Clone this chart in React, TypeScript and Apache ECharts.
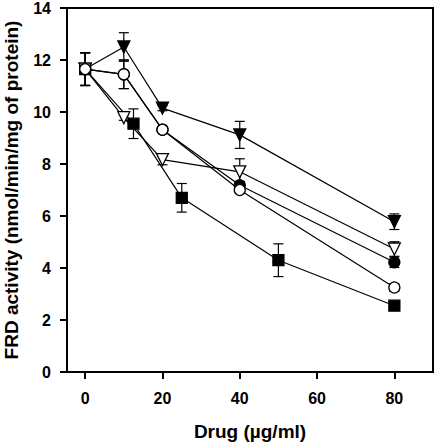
import React, { useEffect, useRef } from "react";
import * as echarts from "echarts";

const doses = [0, 10, 20, 40, 80];
const squareDoses = [0, 12.5, 25, 50, 80];
const xTicks = [0, 20, 40, 60, 80];

const squareMean = [11.65, 9.55, 6.7, 4.3, 2.55];
const squareErr = [0.63, 0.57, 0.55, 0.63, 0.08];
const filledTriMean = [11.65, 12.5, 10.15, 9.12, 5.78];
const filledTriErr = [0.63, 0.55, 0.1, 0.52, 0.3];
const openCircleMean = [11.65, 11.45, 9.32, 7.0, 3.25];
const openCircleErr = [0.63, 0.55, 0.1, 0.1, 0.15];
const openTriMean = [11.65, 9.78, 8.17, 7.7, 4.73];
const openTriErr = [0.63, 0.1, 0.2, 0.5, 0.28];
const filledCircleMean = [11.65, 11.45, 9.32, 7.18, 4.22];
const filledCircleErr = [0.63, 0.55, 0.1, 0.15, 0.2];

const FONT = "'Liberation Sans', Arial, Helvetica, sans-serif";

type S = { xs: number[]; mean: number[]; err: number[]; symbol: string; rotate: number; filled: boolean; size: number };

const seriesDefs: S[] = [
  { xs: doses, mean: filledCircleMean, err: filledCircleErr, symbol: "circle", rotate: 0, filled: true, size: 11 },
  { xs: squareDoses, mean: squareMean, err: squareErr, symbol: "rect", rotate: 0, filled: true, size: 11 },
  { xs: doses, mean: filledTriMean, err: filledTriErr, symbol: "triangle", rotate: 180, filled: true, size: 12 },
  { xs: doses, mean: openTriMean, err: openTriErr, symbol: "triangle", rotate: 180, filled: false, size: 12 },
  { xs: doses, mean: openCircleMean, err: openCircleErr, symbol: "circle", rotate: 0, filled: false, size: 11 },
];

export default function App() {
  const ref = useRef<HTMLDivElement>(null);
  useEffect(() => {
    if (!ref.current) return;
    const chart = echarts.init(ref.current, null, { renderer: "svg" });
    const series: any[] = [];
    seriesDefs.forEach((d) => {
      series.push({
        type: "custom",
        z: 1,
        data: d.xs.map((x, i) => [x, d.mean[i] - d.err[i], d.mean[i] + d.err[i]]),
        encode: { x: 0, y: [1, 2] },
        renderItem: (params: any, api: any) => {
          const x = api.value(0);
          const top = api.coord([x, api.value(2)]);
          const bot = api.coord([x, api.value(1)]);
          const w = 5;
          const st = { stroke: "#000", lineWidth: 1.2 };
          return {
            type: "group",
            children: [
              { type: "line", shape: { x1: top[0], y1: top[1], x2: bot[0], y2: bot[1] }, style: st },
              { type: "line", shape: { x1: top[0] - w, y1: top[1], x2: top[0] + w, y2: top[1] }, style: st },
              { type: "line", shape: { x1: bot[0] - w, y1: bot[1], x2: bot[0] + w, y2: bot[1] }, style: st },
            ],
          };
        },
      });
    });
    seriesDefs.forEach((d) => {
      series.push({
        type: "line",
        z: 3,
        data: d.xs.map((x, i) => [x, d.mean[i]]),
        symbol: d.symbol,
        symbolRotate: d.rotate,
        symbolSize: d.size,
        showAllSymbol: true,
        lineStyle: { color: "#000", width: 1.2 },
        itemStyle: { color: d.filled ? "#000" : "#fff", borderColor: "#000", borderWidth: 1.3 },
      });
    });
    chart.setOption({
      animation: false,
      backgroundColor: "#fff",
      grid: {
        left: 67, right: 1, top: 8, bottom: 72,
        show: true, borderColor: "#000", borderWidth: 2,
        containLabel: false, outerBoundsMode: "none",
      },
      xAxis: {
        type: "value",
        min: -4.7,
        max: 90,
        name: "Drug (µg/ml)",
        nameLocation: "middle",
        nameGap: 50,
        nameTextStyle: { fontFamily: FONT, fontWeight: "bold", fontSize: 19, color: "#000" },
        axisLine: { show: true, onZero: false, lineStyle: { color: "#000", width: 2 } },
        axisTick: { show: true, inside: false, length: 7, customValues: xTicks, lineStyle: { color: "#000", width: 2 } },
        axisLabel: { customValues: xTicks, margin: 18, fontFamily: FONT, fontWeight: "bold", fontSize: 16, color: "#000" },
        splitLine: { show: false },
      },
      yAxis: {
        type: "value",
        min: 0,
        max: 14,
        interval: 2,
        name: "FRD activity (nmol/min/mg of protein)",
        nameLocation: "middle",
        nameGap: 46,
        nameTextStyle: { fontFamily: FONT, fontWeight: "bold", fontSize: 19, color: "#000" },
        axisLine: { show: true, onZero: false, lineStyle: { color: "#000", width: 2 } },
        axisTick: { show: true, inside: false, length: 7, lineStyle: { color: "#000", width: 2 } },
        axisLabel: { margin: 16, fontFamily: FONT, fontWeight: "bold", fontSize: 16, color: "#000" },
        splitLine: { show: false },
      },
      series,
    });
    return () => chart.dispose();
  }, []);
  return <div ref={ref} style={{ width: 434, height: 444, position: "absolute", left: 0, top: 0 }} />;
}
